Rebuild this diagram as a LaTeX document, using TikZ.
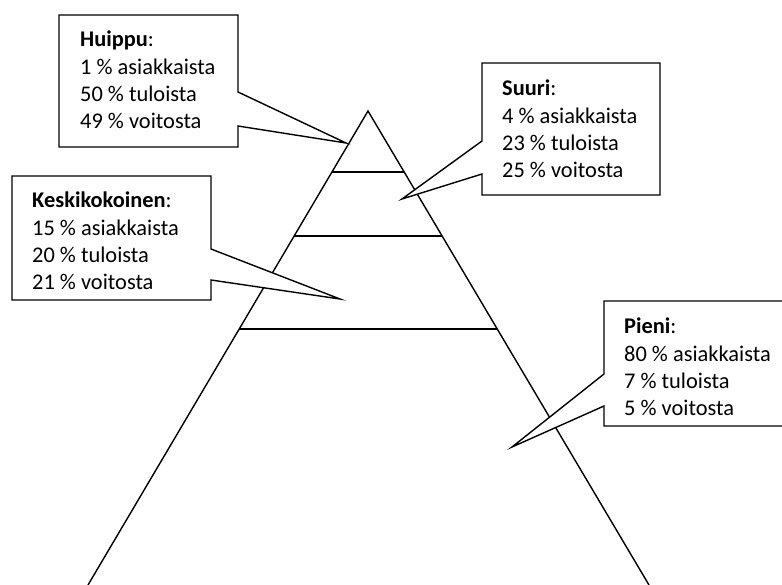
\documentclass[tikz,border=0pt]{standalone}
\usepackage{fontspec}
\setmainfont{Carlito}
\usepackage{tikz}
\usetikzlibrary{calc}
\pgfdeclarelayer{bg}
\pgfsetlayers{bg,main}
\tikzset{
    side/.style={line width=1.4pt},
    bubble/.style={draw, fill=white, line width=1.4pt},
    info/.style={align=left, anchor=north west, inner sep=0mm, font=\fontsize{22.4}{27.3}\selectfont}
}

\begin{document}
\begin{tikzpicture}[x=1pt, y=-1pt]
    \useasboundingbox (0,0) rectangle (782,585);

    \coordinate (top) at (368,111);
    \coordinate (bl) at (88,585);
    \coordinate (br) at (649,585);

    \begin{pgfonlayer}{bg}
        \draw[side] (bl) -- (top) -- (br);
        \foreach \t in {0.129,0.264,0.46}
            \draw[side] ($(top)!\t!(bl)$) -- ($(top)!\t!(br)$);
    \end{pgfonlayer}

    \draw[bubble] (59,15) -- (238,15) -- (238,92) -- (346,143) -- (238,126) -- (238,147) -- (59,147) -- cycle;
    \draw[bubble] (482,63) -- (660,63) -- (660,195) -- (482,195) -- (482,174) -- (402,199) -- (482,141) -- cycle;
    \draw[bubble] (12,176) -- (211,176) -- (211,249) -- (340,299) -- (211,280) -- (211,300) -- (12,300) -- cycle;
    \draw[bubble] (604,301) -- (790,301) -- (790,426) -- (604,426) -- (604,406) -- (512,447) -- (604,374) -- cycle;

    \node (huippu) at (80,31) [info] {\textbf{Huippu}:\\1 \% asiakkaista\\50 \% tuloista\\49 \% voitosta};
    \node (suuri) at (502,80) [info] {\textbf{Suuri}:\\4 \% asiakkaista\\23 \% tuloista\\25 \% voitosta};
    \node (keski) at (32,192) [info] {\textbf{Keskikokoinen}:\\15 \% asiakkaista\\20 \% tuloista\\21 \% voitosta};
    \node (pieni) at (624,318) [info] {\textbf{Pieni}:\\80 \% asiakkaista\\7 \% tuloista\\5 \% voitosta};
\end{tikzpicture}
\end{document}
